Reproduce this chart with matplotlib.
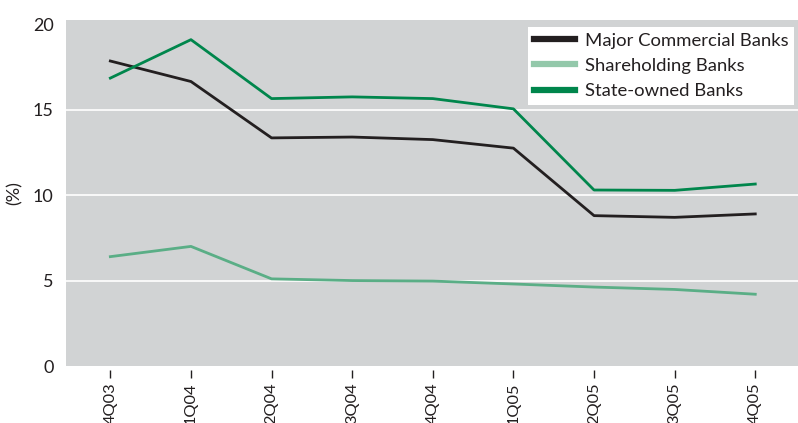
import matplotlib
matplotlib.use("Agg")
import matplotlib.pyplot as plt
from matplotlib.lines import Line2D
import matplotlib.transforms as mtrans

quarters = ["4Q03", "1Q04", "2Q04", "3Q04", "4Q04", "1Q05", "2Q05", "3Q05", "4Q05"]
major_commercial = [17.85, 16.65, 13.35, 13.4, 13.25, 12.75, 8.8, 8.7, 8.9]
shareholding = [6.4, 7.0, 5.1, 5.0, 4.97, 4.8, 4.62, 4.48, 4.2]
state_owned = [16.85, 19.1, 15.65, 15.75, 15.65, 15.05, 10.3, 10.28, 10.65]
y_ticks = [0, 5, 10, 15, 20]

c_black = "#231f20"
c_share = "#5aae86"
c_share_leg = "#93c8aa"
c_state = "#00864c"
bg = "#d1d3d4"

plt.rcParams['font.family'] = ['Lato', 'DejaVu Sans']

fig = plt.figure(figsize=(7.98, 4.23), dpi=100)
ax = fig.add_axes([66/798, 1 - 366/423, (798-66)/798, (366-20)/423])
ax.set_facecolor(bg)

x = list(range(len(quarters)))
ax.plot(x, major_commercial, color=c_black, lw=2.0, zorder=3)
ax.plot(x, shareholding, color=c_share, lw=2.0, zorder=3)
ax.plot(x, state_owned, color=c_state, lw=2.0, zorder=3)

ax.set_xlim(-0.55, 8.53)
ax.set_ylim(0, 20.25)
ax.set_yticks(y_ticks)
ax.set_yticklabels([str(v) for v in y_ticks], fontsize=13, color="#231f20")
for v in [5, 10, 15]:
    ax.axhline(v, color="white", lw=1.2, zorder=1)

ax.set_xticks(x)
ax.set_xticklabels(quarters, rotation=90, fontsize=11.8, color="#231f20", va='top')
ax.tick_params(axis='x', length=6, width=1, color="#231f20", pad=6, direction='out')
ax.tick_params(axis='y', length=0, pad=9)
for s in ax.spines.values():
    s.set_visible(False)

for t in ax.xaxis.get_major_ticks():
    t.tick1line.set_transform(t.tick1line.get_transform() + mtrans.ScaledTranslation(0, -4/100, fig.dpi_scale_trans))

fig.text(15/798, 1 - 193/423, "(%)", rotation=90, ha='center', va='center', fontsize=13, color="#231f20")

handles = [Line2D([0], [0], color=c_black, lw=4.5),
           Line2D([0], [0], color=c_share_leg, lw=4.5),
           Line2D([0], [0], color=c_state, lw=4.5)]
labels = ["Major Commercial Banks", "Shareholding Banks", "State-owned Banks"]
leg = ax.legend(handles, labels, loc='upper right', bbox_to_anchor=(794/798, 1 - 27/423),
                bbox_transform=fig.transFigure, frameon=True, fancybox=False, framealpha=1,
                fontsize=13.3, handlelength=2.2, handletextpad=0.55, labelspacing=0.5,
                borderpad=0.3, borderaxespad=0)
leg.get_frame().set_facecolor("white")
leg.get_frame().set_edgecolor("white")
leg.get_frame().set_linewidth(0)
for t in leg.get_texts():
    t.set_color("#231f20")

fig.savefig("out.png", dpi=100)
